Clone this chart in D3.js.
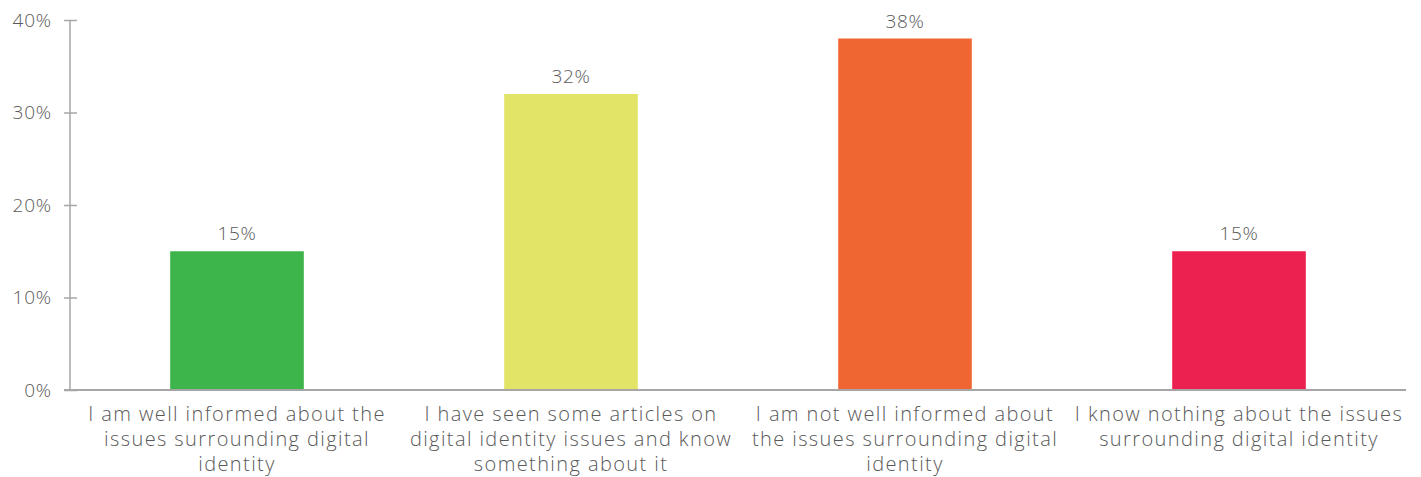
<!DOCTYPE html>
<html>
<head>
<meta charset="utf-8">
<script src="https://cdn.jsdelivr.net/npm/d3@7"></script>
<style>
  html, body { margin: 0; padding: 0; background: #fff; }
  svg text { font-family: "Open Sans", "DejaVu Sans", sans-serif; font-weight: 300; fill: #595959; }
</style>
</head>
<body>
<svg id="chart" width="1421" height="477"></svg>
<script>
// Survey responses: awareness of digital identity issues
const categories = [
  "I am well informed about the\nissues surrounding digital\nidentity",
  "I have seen some articles on\ndigital identity issues and know\nsomething about it",
  "I am not well informed about\nthe issues surrounding digital\nidentity",
  "I know nothing about the issues\nsurrounding digital identity"
];
const shares = [0.15, 0.32, 0.38, 0.15];
const barColors = ["#3DB54A", "#E1E466", "#F06633", "#EC214F"];
const yTicks = [0, 0.1, 0.2, 0.3, 0.4];

const svg = d3.select("#chart");
const margin = { left: 70, right: 15, top: 20, bottom: 87 };
const W = 1421, H = 477;
const plotW = W - margin.left - margin.right;
const plotH = H - margin.top - margin.bottom;

const g = svg.append("g").attr("transform", `translate(${margin.left},${margin.top})`);

const x = d3.scaleBand().domain(categories).range([0, plotW]).paddingInner(0.6).paddingOuter(0.3);
const y = d3.scaleLinear().domain([0, 0.4]).range([plotH, 0]);

// bars
g.selectAll("rect.bar").data(shares).join("rect")
  .attr("class", "bar")
  .attr("x", (d, i) => x(categories[i]))
  .attr("width", x.bandwidth())
  .attr("y", d => y(d))
  .attr("height", d => y(0) - y(d))
  .attr("fill", (d, i) => barColors[i]);

// value labels
g.selectAll("text.val").data(shares).join("text")
  .attr("class", "val")
  .attr("x", (d, i) => x(categories[i]) + x.bandwidth() / 2)
  .attr("y", d => y(d) - 11)
  .attr("text-anchor", "middle")
  .style("font-size", "19px")
  .style("letter-spacing", "0.6px")
  .text(d => d3.format(".0%")(d));

// y axis
const yAxis = g.append("g")
  .call(d3.axisLeft(y).tickValues(yTicks).tickFormat(d3.format(".0%")).tickSize(6).tickPadding(12));
yAxis.select(".domain").attr("stroke", "#A6A6A6").attr("stroke-width", 1.5).attr("d", `M0,${plotH}V0`);
yAxis.selectAll(".tick line").attr("stroke", "#A6A6A6").attr("stroke-width", 1.5).attr("x1", 7).attr("x2", -6);
yAxis.selectAll(".tick text").style("font-size", "19px").style("letter-spacing", "0.8px").attr("fill", "#595959");

// x axis
const xAxis = g.append("g").attr("transform", `translate(0,${plotH})`)
  .call(d3.axisBottom(x).tickSize(0).tickFormat(""));
xAxis.select(".domain").attr("stroke", "#A6A6A6").attr("stroke-width", 2).attr("d", `M-6,0H${plotW}`);

// category labels, one tspan per line
const lab = g.selectAll("text.cat").data(categories).join("text")
  .attr("class", "cat")
  .attr("text-anchor", "middle")
  .attr("transform", d => `translate(${x(d) + x.bandwidth() / 2},${plotH + 31})`)
  .style("font-size", "20px")
  .style("letter-spacing", "1.4px");
lab.selectAll("tspan").data(d => d.split("\n")).join("tspan")
  .attr("x", 0)
  .attr("dy", (d, i) => i === 0 ? 0 : 25)
  .text(d => d);
</script>
</body>
</html>
